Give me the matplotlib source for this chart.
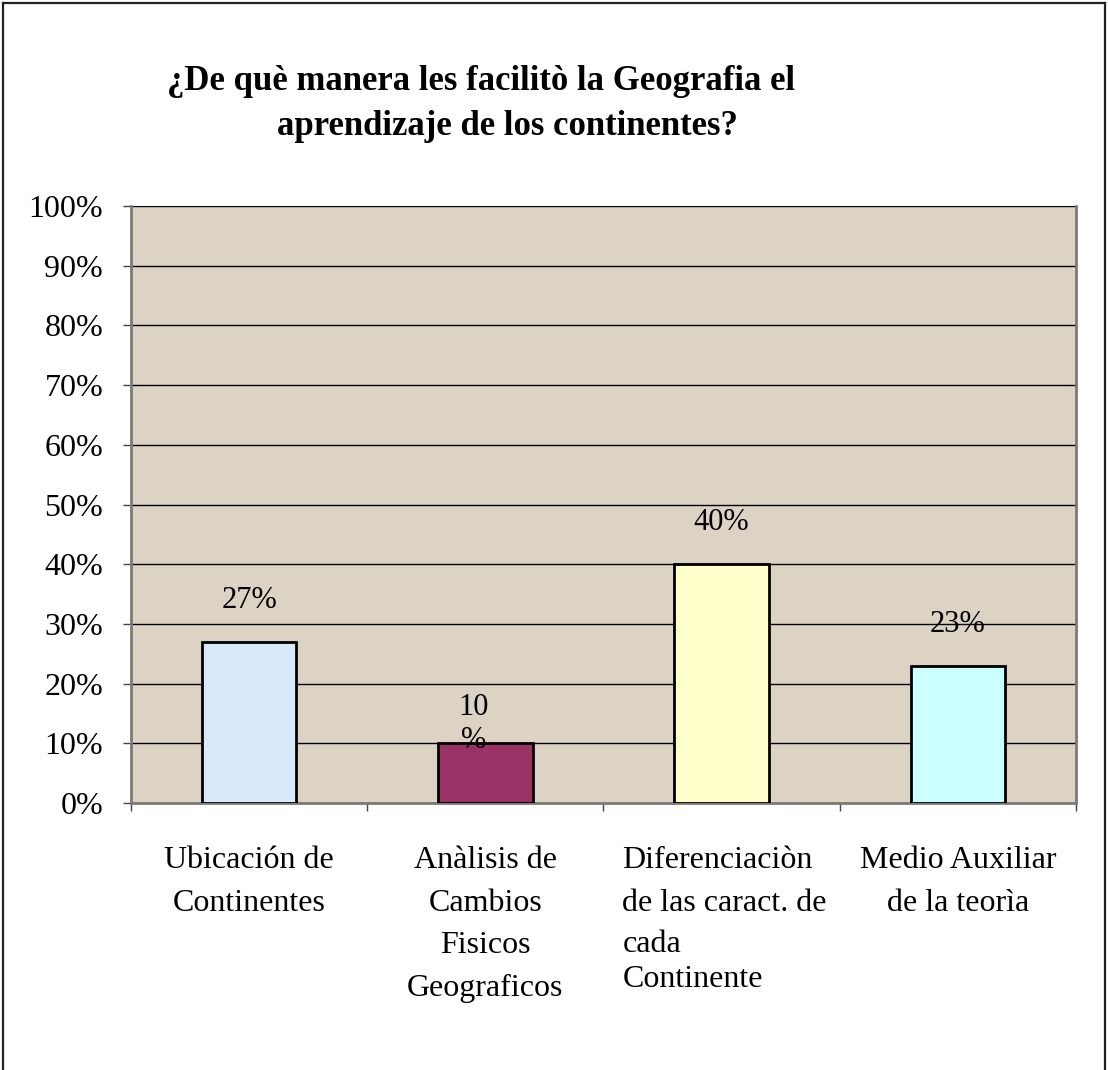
import numpy as np
import matplotlib
matplotlib.use("Agg")
import matplotlib.pyplot as plt
from matplotlib.lines import Line2D
import matplotlib.transforms as mtransforms

plt.rcParams['font.family'] = ['Liberation Serif', 'DejaVu Serif']

# data
categories = ["Ubicación de\nContinentes",
              "Anàlisis de\nCambios\nFisicos\nGeograficos",
              "Diferenciaciòn\nde las caract. de",
              "Medio Auxiliar\nde la teorìa"]
values = [27, 10, 40, 23]
value_labels = ["27%", "10\n%", "40%", "23%"]
bar_colors = ["#d8e9fb", "#993366", "#ffffcc", "#ccffff"]
y_ticks = [0, 10, 20, 30, 40, 50, 60, 70, 80, 90, 100]
y_tick_labels = [f"{t}%" for t in y_ticks]
title_line1 = "¿De què manera les facilitò la Geografia el"
title_line2 = "aprendizaje de los continentes?"

fig = plt.figure(figsize=(11.08, 10.70), dpi=100)
fig.patch.set_facecolor("white")

# outer frame (top, left, right)
for xs, ys in [([0.003, 0.997], [0.997, 0.997]),
               ([0.003, 0.003], [0.0, 0.997]),
               ([0.997, 0.997], [0.0, 0.997])]:
    fig.add_artist(Line2D(xs, ys, transform=fig.transFigure, color="#222222", lw=1.6))

ax = fig.add_axes([0.1182, 0.2495, 0.8529, 0.558])
ax.set_facecolor("#ddd3c5")

x = np.arange(len(values))
ax.bar(x, values, width=0.4, color=bar_colors, edgecolor="black", linewidth=2, zorder=3)

ax.set_xlim(-0.5, len(values) - 0.5)
ax.set_ylim(0, 100)
ax.set_yticks(y_ticks)
ax.set_yticklabels(y_tick_labels, fontsize=23)
ax.yaxis.grid(True, color="black", linewidth=1.0, zorder=1)
ax.set_axisbelow(True)
ax.tick_params(axis="y", length=6, width=1, pad=14, color="#444444")
ax.set_xticks(np.arange(len(values) + 1) - 0.5)
ax.set_xticklabels([])
ax.tick_params(axis="x", length=6, width=1, color="#444444", direction="out")

for side in ["left", "bottom", "right"]:
    ax.spines[side].set_color("#7a7a7a")
    ax.spines[side].set_linewidth(2)
ax.spines["top"].set_visible(False)

# value labels
for xi, v, lab in zip(x, values, value_labels):
    if "\n" in lab:
        ax.annotate(lab, (xi - 0.05, v), xytext=(0, 14), textcoords="offset points",
                    ha="center", va="center", fontsize=22, linespacing=1.15, zorder=4)
    else:
        ax.annotate(lab, (xi, v), xytext=(0, 30), textcoords="offset points",
                    ha="center", va="center", fontsize=22, zorder=4)

# category labels below axis
trans = mtransforms.blended_transform_factory(ax.transData, ax.transAxes)
for i, lab in enumerate(categories):
    if i == 2:
        ax.text(i - 0.42, -0.072, lab, transform=trans, ha="left", va="top",
                fontsize=23, linespacing=1.62)
        ax.text(i - 0.42, -0.212, "cada\nContinente", transform=trans, ha="left", va="top",
                fontsize=23, linespacing=1.3)
    else:
        ax.text(i, -0.072, lab, transform=trans, ha="center", va="top",
                fontsize=23, linespacing=1.62, multialignment="center")

fig.text(0.434, 0.924, title_line1, ha="center", va="center", fontsize=25, fontweight="bold")
fig.text(0.458, 0.882, title_line2, ha="center", va="center", fontsize=25, fontweight="bold")

fig.savefig("out.png", dpi=100, facecolor="white")
